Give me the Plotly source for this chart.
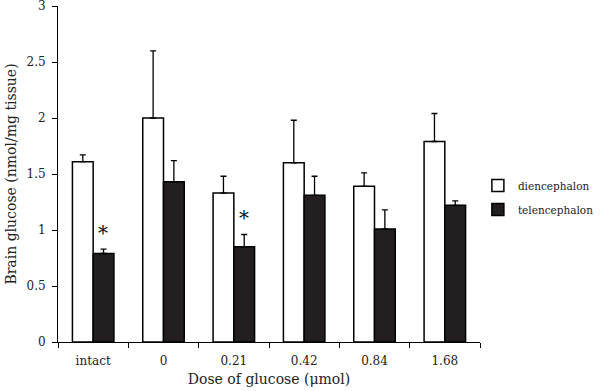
import plotly.graph_objects as go

categories = ["intact", "0", "0.21", "0.42", "0.84", "1.68"]
dien = [1.61, 2.00, 1.33, 1.60, 1.39, 1.79]
dien_err = [0.06, 0.60, 0.15, 0.38, 0.12, 0.25]
tel = [0.79, 1.43, 0.85, 1.31, 1.01, 1.22]
tel_err = [0.04, 0.19, 0.11, 0.17, 0.17, 0.04]
sig = ["intact", "0.21"]

FONT = "DejaVu Serif"

fig = go.Figure()
fig.add_trace(go.Bar(
    name="diencephalon", x=categories, y=dien, legendgroup="d",
    marker=dict(color="white", line=dict(color="black", width=1.5)),
    error_y=dict(type="data", symmetric=False, array=dien_err,
                 arrayminus=[0]*len(dien), color="black", thickness=1.3, width=3),
))
fig.add_trace(go.Bar(
    name="telencephalon", x=categories, y=tel, legendgroup="t",
    marker=dict(color="#231f20", line=dict(color="black", width=1.5)),
    error_y=dict(type="data", symmetric=False, array=tel_err,
                 arrayminus=[0]*len(tel), color="black", thickness=1.3, width=3),
))

for c in sig:
    i = categories.index(c)
    fig.add_annotation(x=i, y=tel[i] + tel_err[i], xref="x", yref="y",
                       text="*", showarrow=False, xshift=10, yshift=2,
                       yanchor="bottom", font=dict(family=FONT, size=20, color="#111"))

fig.update_layout(
    width=600, height=391,
    margin=dict(l=58, r=120, t=6, b=49, autoexpand=False),
    paper_bgcolor="white", plot_bgcolor="white",
    barmode="group", bargap=0.41, bargroupgap=0,
    font=dict(family=FONT, size=12, color="#222"),
    showlegend=True,
    legend=dict(x=0.995, y=0.43, xanchor="left", yanchor="middle",
                bgcolor="rgba(0,0,0,0)",
                font=dict(family=FONT, size=10.5, color="#222"),
                itemwidth=30, traceorder="grouped", tracegroupgap=5),
    xaxis=dict(title=dict(text="Dose of glucose (μmol)", standoff=6),
               type="category", automargin=False, ticklabelstandoff=8,
               showline=True, linecolor="black", linewidth=1,
               ticks="outside", tickson="boundaries", ticklen=5, tickcolor="black",
               showgrid=False),
    yaxis=dict(title=dict(text="Brain glucose (nmol/mg tissue)", standoff=6),
               range=[0, 3], tickvals=[0, 0.5, 1, 1.5, 2, 2.5, 3],
               ticktext=["0", "0.5", "1", "1.5", "2", "2.5", "3"],
               automargin=False, ticklabeloverflow="allow", ticklabelstandoff=4,
               showline=True, linecolor="black", linewidth=1,
               ticks="outside", ticklen=5, tickcolor="black",
               showgrid=False, zeroline=False),
)

fig.write_html("out.html", config={"displayModeBar": False},
               post_script="document.body.style.margin='0';")
